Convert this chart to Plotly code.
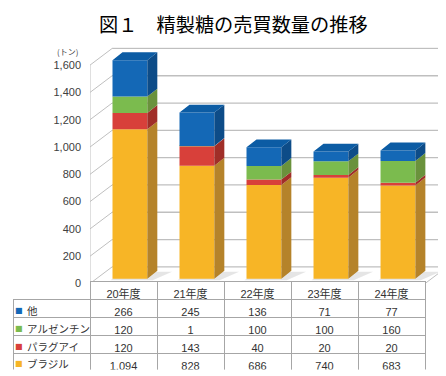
import plotly.graph_objects as go

# ---------------- data ----------------
categories = ["20年度", "21年度", "22年度", "23年度", "24年度"]
brazil = [1094, 828, 686, 740, 683]
paraguay = [120, 143, 40, 20, 20]
argentina = [120, 1, 100, 100, 160]
other = [266, 245, 136, 71, 77]
y_ticks = [0, 200, 400, 600, 800, 1000, 1200, 1400, 1600]
title_text = "図１　精製糖の売買数量の推移"
unit_text = "(トン)"

# stacking order bottom -> top : (name, values, front, side, top)
stack = [
    ("ブラジル", brazil, "#F7B526", "#B5832A", "#D99E22"),
    ("パラグアイ", paraguay, "#D8403A", "#A02E28", "#B83530"),
    ("アルゼンチン", argentina, "#7BBB4E", "#6A923C", "#6FA845"),
    ("他", other, "#1468B6", "#0D4C88", "#0C5CA4"),
]
table_rows = ["他", "アルゼンチン", "パラグアイ", "ブラジル"]

# ---------------- layout geometry ----------------
W, H = 446, 376
PX0, PX1 = 82, 440.5
PY0, PY1 = 40, 280
TX0, TX1 = 5, 417
TY0, TY1 = 278, 368
ROW_H = 18
TEXT_DY = 11.5

DX, DY = 0.33, 122          # wall depth (axis units)
F = 0.29                    # depth of bar front face
BW = 0.52                   # bar width
BDX, BDY = 0.149, 58        # bar depth
N = len(categories)
xs = list(range(N))

fig = go.Figure()

# bars: front faces + side faces
cum = [0] * N
for name, vals, cfront, cside, ctop in stack:
    base = [c + F * DY for c in cum]
    xc = [x + F * DX for x in xs]
    fig.add_trace(go.Bar(
        x=xc, y=vals, base=base, width=BW, name=name,
        marker=dict(color=cfront, line=dict(width=0)),
        hoverinfo="skip", showlegend=False))
    sx, sy = [], []
    for i in range(N):
        xr = xc[i] + BW / 2
        b = base[i]
        t = base[i] + vals[i]
        sx += [xr, xr + BDX, xr + BDX, xr, xr, None]
        sy += [b, b + BDY, t + BDY, t, b, None]
    fig.add_trace(go.Scatter(x=sx, y=sy, mode="lines", fill="toself",
                             fillcolor=cside, line=dict(width=0, color=cside),
                             hoverinfo="skip", showlegend=False))
    cum = [c + v for c, v in zip(cum, vals)]

# top faces
top_color = stack[-1][4]
tx, ty = [], []
for i in range(N):
    xl = xs[i] + F * DX - BW / 2
    xr = xs[i] + F * DX + BW / 2
    T = cum[i] + F * DY
    tx += [xl, xl + BDX, xr + BDX, xr, xl, None]
    ty += [T, T + BDY, T + BDY, T, T, None]
fig.add_trace(go.Scatter(x=tx, y=ty, mode="lines", fill="toself",
                         fillcolor=top_color, line=dict(width=0, color=top_color),
                         hoverinfo="skip", showlegend=False))

# ---------------- walls / floor ----------------
xl0 = -0.5
xr0 = N - 0.5
grid_col = "#BFBFBF"
shapes = []
for i in range(N):
    xl = xs[i] + F * DX - BW / 2
    xr = xs[i] + F * DX + BW / 2
    b = F * DY
    shapes.append(dict(type="path", xref="x", yref="y", layer="below",
                       path=(f"M{xl - 0.03},{b - 12} L{xr + 0.08},{b - 12} "
                             f"L{xr + BDX + 0.22},{b + BDY - 8} L{xl + BDX},{b + BDY - 8} Z"),
                       fillcolor="rgba(0,0,0,0.10)", line=dict(width=0)))
for v in y_ticks:
    shapes.append(dict(type="line", xref="x", yref="y", layer="below",
                       x0=xl0 + DX, x1=xr0 + DX, y0=v + DY, y1=v + DY,
                       line=dict(color=grid_col, width=1.3)))
    shapes.append(dict(type="line", xref="x", yref="y", layer="below",
                       x0=xl0, x1=xl0 + DX, y0=v, y1=v + DY,
                       line=dict(color=grid_col, width=1)))
shapes.append(dict(type="line", xref="x", yref="y", layer="below",
                   x0=xl0, x1=xl0, y0=0, y1=y_ticks[-1],
                   line=dict(color=grid_col, width=1)))
shapes.append(dict(type="line", xref="x", yref="y", layer="below",
                   x0=xr0, x1=xr0 + DX, y0=0, y1=DY,
                   line=dict(color=grid_col, width=1)))

# ---------------- table ----------------
series_map = {name: (vals, cfront) for name, vals, cfront, _, _ in stack}
value_cols = [[f"{series_map[r][0][j]:,}" for r in table_rows] for j in range(N)]

border = "#A6A6A6"
tfont = dict(family="Liberation Sans, Noto Sans CJK JP", size=11, color="#333333")
fig.add_trace(go.Table(
    domain=dict(x=[TX0 / W, TX1 / W], y=[1 - TY1 / H, 1 - TY0 / H]),
    columnwidth=[77] + [67] * N,
    header=dict(values=[""] + categories, height=ROW_H,
                fill=dict(color=["rgba(0,0,0,0)"] + ["white"] * N),
                line=dict(color=["rgba(0,0,0,0)"] + [border] * N, width=1),
                align="center", font=tfont),
    cells=dict(values=[[""] * len(table_rows)] + value_cols, height=ROW_H,
               fill=dict(color="white"),
               line=dict(color=border, width=1),
               align="center", font=tfont),
))

annotations = []
for k, r in enumerate(table_rows):
    yc = TY0 + ROW_H * (k + 1) + TEXT_DY
    annotations.append(dict(text="■", xref="paper", yref="paper",
                            x=11 / W, y=1 - yc / H, xanchor="center", yanchor="middle",
                            showarrow=False,
                            font=dict(family="DejaVu Sans", size=8, color=series_map[r][1])))
    annotations.append(dict(text=r, xref="paper", yref="paper",
                            x=17 / W, y=1 - yc / H, xanchor="left", yanchor="middle",
                            showarrow=False,
                            font=dict(family="Noto Sans CJK JP", size=10.5, color="#333333")))
annotations.append(dict(text=unit_text, xref="paper", yref="paper",
                        x=72 / W, y=1 - 44 / H, xanchor="right", yanchor="middle",
                        showarrow=False,
                        font=dict(family="Noto Sans CJK JP", size=8, color="#404040")))
annotations.append(dict(text=title_text, xref="paper", yref="paper",
                        x=225.5 / W, y=1 - 16 / H, xanchor="center", yanchor="middle",
                        showarrow=False,
                        font=dict(family="Noto Sans CJK JP", size=19.2, color="#000000")))

fig.update_layout(
    width=W, height=H,
    margin=dict(l=0, r=0, t=0, b=0),
    paper_bgcolor="white", plot_bgcolor="white",
    barmode="overlay",
    showlegend=False,
    shapes=shapes,
    annotations=annotations,
    xaxis=dict(domain=[PX0 / W, PX1 / W], range=[-0.5, N - 0.5 + 0.35],
               showgrid=False, zeroline=False,
               showticklabels=False, showline=False, fixedrange=True),
    yaxis=dict(domain=[1 - PY1 / H, 1 - PY0 / H], range=[0, 1730],
               tickvals=y_ticks, tickformat=",d",
               showgrid=False, zeroline=False, showline=False,
               ticklabelstandoff=8,
               tickfont=dict(family="Liberation Sans, Arial", size=11, color="#404040"),
               fixedrange=True),
)

fig.write_html("out.html")
